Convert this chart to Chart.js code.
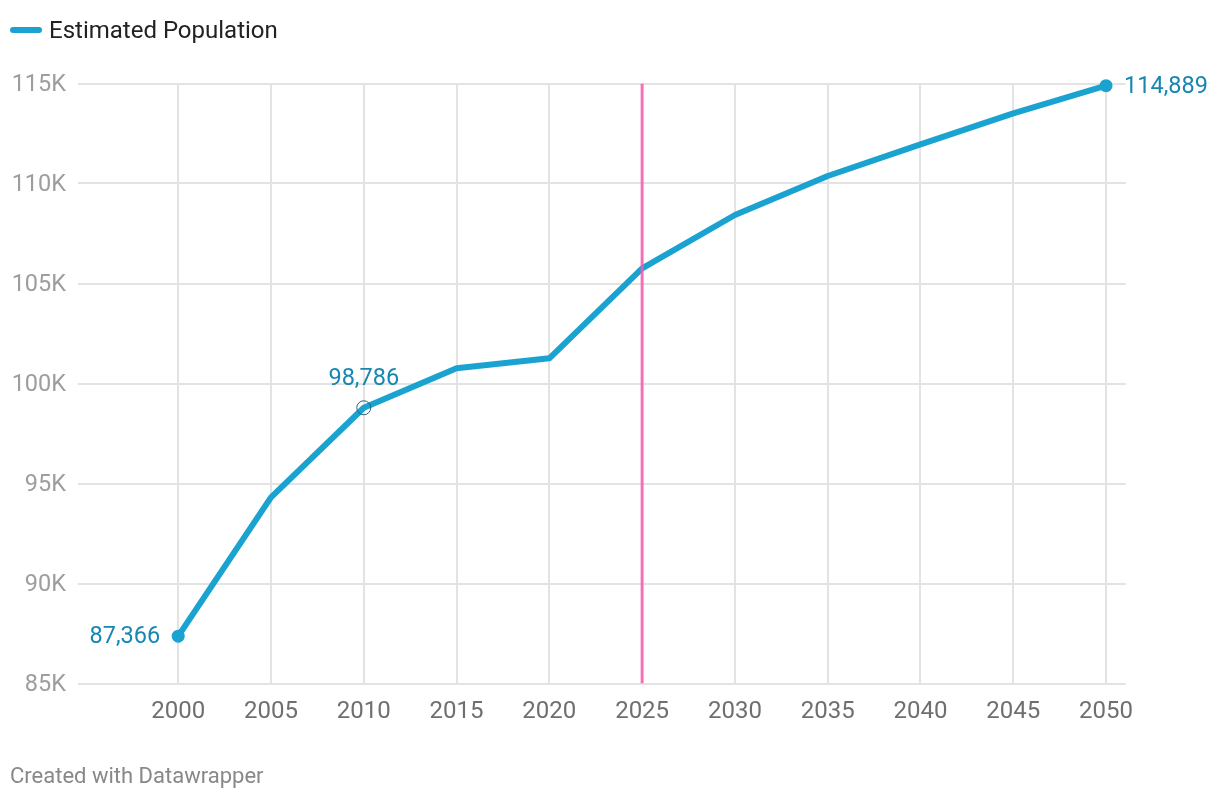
<!DOCTYPE html>
<html>
<head>
<meta charset="utf-8">
<script src="https://cdn.jsdelivr.net/npm/chart.js@4.4.1/dist/chart.umd.min.js"></script>
<style>
  html, body { margin: 0; padding: 0; background: #fff; }
  body { width: 1220px; height: 800px; position: relative; overflow: hidden; font-family: Roboto, "Noto Sans", sans-serif; }
  #wrap { position: absolute; left: 0; top: 0; width: 1220px; height: 800px; }
  .legend { position: absolute; left: 10px; top: 16px; height: 28px; font-size: 24px; color: #222; display: flex; align-items: center; }
  .legend .swatch { display: inline-block; width: 32px; height: 6px; border-radius: 3px; background: #1aa3d0; margin-right: 7px; }
  .footer { position: absolute; left: 10px; top: 762px; height: 28px; line-height: 28px; font-size: 22px; color: #888; }
</style>
</head>
<body>
<div id="wrap"><canvas id="chart"></canvas></div>
<div class="legend"><span class="swatch"></span>Estimated Population</div>
<div class="footer">Created with Datawrapper</div>
<script>
// data
const years = [2000, 2005, 2010, 2015, 2020, 2025, 2030, 2035, 2040, 2045, 2050];
const population = [87366, 94310, 98786, 100760, 101260, 105760, 108425, 110375, 111960, 113510, 114889];
const yTicks = [85000, 90000, 95000, 100000, 105000, 110000, 115000];
const markerYear = 2025;
// which points get a value label and where
const labelled = { 0: "left", 2: "top", 10: "right" };

const lineColor = "#1aa3d0";
const labelColor = "#1787b1";

// value labels next to selected points
const valueLabels = {
  id: "valueLabels",
  afterDatasetsDraw(chart) {
    const meta = chart.getDatasetMeta(1);
    const ctx = chart.ctx;
    ctx.save();
    ctx.font = "23.5px Roboto";
    ctx.fillStyle = labelColor;
    ctx.textBaseline = "middle";
    Object.keys(labelled).forEach(k => {
      const i = +k;
      const pt = meta.data[i];
      const txt = population[i].toLocaleString("en-US");
      const pos = labelled[k];
      if (pos === "left") {
        ctx.textAlign = "right";
        ctx.fillText(txt, pt.x - 18, pt.y + 1);
      } else if (pos === "right") {
        ctx.textAlign = "left";
        ctx.fillText(txt, pt.x + 18, pt.y + 1);
      } else {
        ctx.textAlign = "center";
        ctx.fillText(txt, pt.x, pt.y - 29);
      }
    });
    ctx.restore();
  }
};

const pointRadius = years.map((y, i) => (i === 0 || i === 10) ? 6.5 : (i === 2 ? 7 : 0));
const pointBg = years.map((y, i) => i === 2 ? "rgba(0,0,0,0)" : lineColor);
const pointBorder = years.map((y, i) => i === 2 ? "#2d5f70" : lineColor);
const pointBorderW = years.map((y, i) => i === 2 ? 1 : 0);

new Chart(document.getElementById("chart"), {
  type: "line",
  data: {
    datasets: [
      {
        label: "2025",
        data: [{ x: markerYear, y: yTicks[0] }, { x: markerYear, y: yTicks[yTicks.length - 1] }],
        borderColor: "rgba(246, 92, 176, 0.85)",
        borderWidth: 3,
        pointRadius: 0
      },
      {
        label: "Estimated Population",
        data: years.map((y, i) => ({ x: y, y: population[i] })),
        borderColor: lineColor,
        borderWidth: 6,
        borderJoinStyle: "round",
        borderCapStyle: "round",
        pointRadius: pointRadius,
        pointBackgroundColor: pointBg,
        pointBorderColor: pointBorder,
        pointBorderWidth: pointBorderW,
        pointHoverRadius: 0,
        clip: false,
        tension: 0
      }
    ]
  },
  options: {
    responsive: true,
    maintainAspectRatio: false,
    animation: false,
    events: [],
    layout: { padding: { top: 83.5, right: 94.3, left: 0, bottom: 0 } },
    plugins: {
      legend: { display: false },
      tooltip: { enabled: false }
    },
    scales: {
      x: {
        type: "linear",
        min: 1994.6,
        max: 2051.06,
        afterBuildTicks: s => { s.ticks = years.map(v => ({ value: v })); },
        afterFit: s => { s.height = 116.5; },
        grid: { color: "#e3e3e3", lineWidth: 2, drawTicks: false },
        border: { display: false },
        ticks: {
          padding: 14,
          color: "#6f6f6f",
          font: { family: "Roboto", size: 24 },
          callback: v => String(v)
        }
      },
      y: {
        min: yTicks[0],
        max: yTicks[yTicks.length - 1],
        afterBuildTicks: s => { s.ticks = yTicks.map(v => ({ value: v })); },
        afterFit: s => { s.width = 78; },
        grid: { color: "#e3e3e3", lineWidth: 2, drawTicks: false },
        border: { display: false },
        ticks: {
          padding: 12,
          labelOffset: 2,
          color: "#9d9d9d",
          font: { family: "Roboto", size: 23.5 },
          callback: v => (v / 1000) + "K"
        }
      }
    }
  },
  plugins: [valueLabels]
});
</script>
</body>
</html>
